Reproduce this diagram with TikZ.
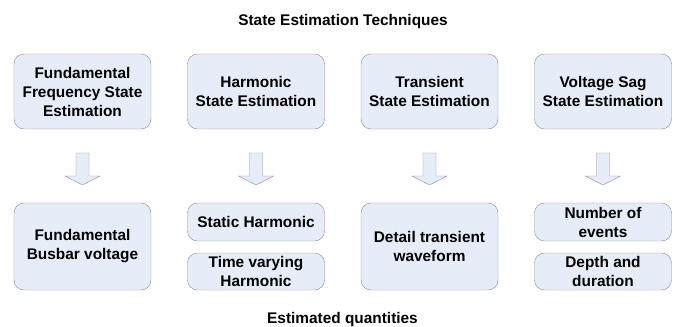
\documentclass[tikz,border=0pt]{standalone}
\usepackage{fontspec}
\setmainfont{Liberation Sans}
\usetikzlibrary{positioning}

\definecolor{boxfill}{HTML}{E7EDF8}
\definecolor{boxline}{HTML}{8C8C8C}

\begin{document}
\begin{tikzpicture}[%
    x=1pt, y=-1pt,
    node distance=173.5pt,
    on grid,
    every node/.style={font=\bfseries\fontsize{15.4}{19}\selectfont},
    box/.style={draw=boxline, fill=boxfill, rounded corners=10pt,
      align=center, minimum width=137pt, inner sep=2pt},
    downarr/.pic={\draw[boxline, fill=boxfill]
      (-6.5,-16) -- (6.5,-16) -- (6.5,7) -- (17.5,7) -- (0,16)
      -- (-17.5,7) -- (-6.5,7) -- cycle;},
    thin
  ]
  \useasboundingbox (0,0) rectangle (681,327);

  \node[anchor=base] (head) at (343,25) {State Estimation Techniques};

  % techniques
  \node[box, minimum height=75pt] (fund) at (82.5,91.5)
    {Fundamental\\Frequency State\\Estimation};
  \node[box, minimum height=75pt] (harm) [right=of fund]
    {Harmonic\\State Estimation};
  \node[box, minimum height=75pt] (trans) [right=of harm]
    {Transient\\State Estimation};
  \node[box, minimum height=75pt] (sag) [right=of trans]
    {Voltage Sag\\State Estimation};

  % quantities
  \node[box, minimum height=87pt] (busbar) [below=155pt of fund]
    {Fundamental\\Busbar voltage};
  \node[box, minimum height=38pt] (stat) [below=130.5pt of harm]
    {Static Harmonic};
  \node[box, minimum height=37pt] (tvar) [below=180pt of harm]
    {Time varying\\Harmonic};
  \node[box, minimum height=87pt] (detail) [below=155pt of trans]
    {Detail transient\\waveform};
  \node[box, minimum height=38pt] (events) [below=130.5pt of sag]
    {Number of\\events};
  \node[box, minimum height=37pt] (depth) [below=180pt of sag]
    {Depth and\\duration};

  \foreach \t in {fund, harm, trans, sag}
    \path (\t.center) -- (\t.center |- busbar.center) pic[midway] {downarr};

  \node[anchor=base] (foot) at (342.5,323) {Estimated quantities};
\end{tikzpicture}
\end{document}
